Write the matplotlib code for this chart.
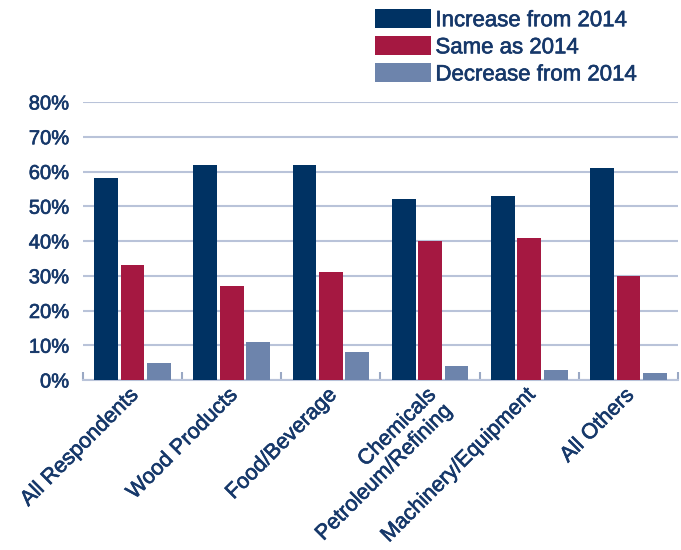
import matplotlib
matplotlib.use("Agg")
import matplotlib.pyplot as plt
import matplotlib.patheffects as pe
import numpy as np

categories = ["All Respondents", "Wood Products", "Food/Beverage",
              "Chemicals\nPetroleum/Refining", "Machinery/Equipment", "All Others"]
increase = [58, 62, 62, 52, 53, 61]
same = [33, 27, 31, 40, 41, 30]
decrease = [5, 11, 8, 4, 3, 2]
series_names = ["Increase from 2014", "Same as 2014", "Decrease from 2014"]
yticks = [0, 10, 20, 30, 40, 50, 60, 70, 80]

colors = ["#003263", "#a51841", "#6d84ac"]
text_color = "#16386a"
grid_color = "#b9c3d9"
bold = [pe.withStroke(linewidth=0.45, foreground=text_color)]

plt.rcParams['font.family'] = ['Liberation Sans', 'DejaVu Sans']

fig = plt.figure(figsize=(6.81, 5.5), dpi=100)
ax = fig.add_axes([83/681, 1-380/550, (678-83)/681, (380-102)/550])

x = np.arange(len(categories))
w = 0.24
step = 0.266
for i, (vals, name) in enumerate(zip([increase, same, decrease], series_names)):
    ax.bar(x + (i-1)*step, vals, width=w, color=colors[i], label=name, zorder=3)

ax.set_xlim(-0.5, len(categories)-0.5)
ax.set_ylim(0, 80)
ax.set_yticks(yticks)
ax.set_yticklabels([f"{v}%" for v in yticks], fontsize=14.5, color=text_color)
for t in ax.get_yticklabels():
    t.set_path_effects(bold)
ax.tick_params(axis='y', length=0, pad=10)
ax.yaxis.grid(True, color=grid_color, linewidth=1.5, zorder=0)
ax.set_axisbelow(True)
for s in ['top', 'right', 'left']:
    ax.spines[s].set_visible(False)
ax.spines['bottom'].set_color(grid_color)
ax.spines['bottom'].set_linewidth(1.5)

# group boundary ticks (upward)
ax.set_xticks(np.arange(len(categories)+1) - 0.5)
ax.set_xticklabels([])
ax.tick_params(axis='x', direction='in', length=6, width=1.5, color="#9aa8c4")

for xi, lab in zip(x, categories):
    ax.text(xi - 0.05, -1.4, lab, rotation=45, ha='right', va='top', rotation_mode='anchor',
            multialignment='right', fontsize=15.5, linespacing=1.1,
            color=text_color, path_effects=bold)

leg = ax.legend(loc='upper left', bbox_to_anchor=(375/681, 1-9/550), bbox_transform=fig.transFigure,
                frameon=False, fontsize=16, handlelength=2.5, handleheight=0.95,
                handletextpad=0.22, labelspacing=0.22, borderpad=0, borderaxespad=0,
                labelcolor=text_color)
for t in leg.get_texts():
    t.set_path_effects(bold)

fig.savefig("out.png", dpi=100)
